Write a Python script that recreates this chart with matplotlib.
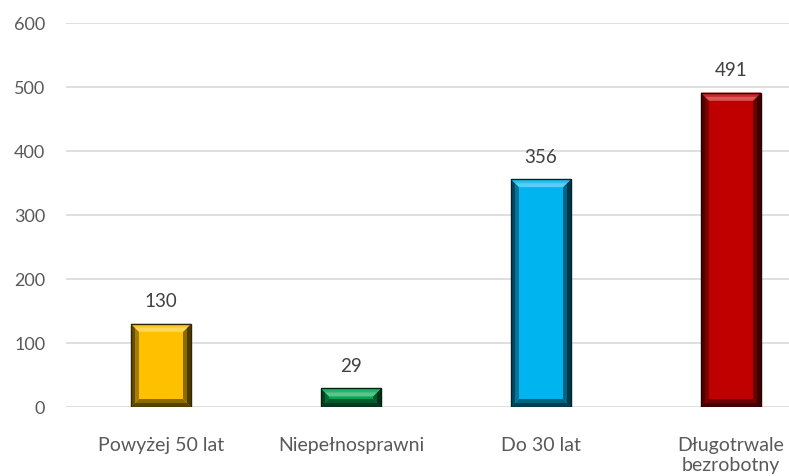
import matplotlib
matplotlib.use("Agg")
import matplotlib.pyplot as plt
from matplotlib.patches import Polygon
import matplotlib.colors as mcolors
import numpy as np

categories = ["Powyżej 50 lat", "Niepełnosprawni", "Do 30 lat", "Długotrwale\nbezrobotny"]
values = [130, 29, 356, 491]
colors = ["#FFC000", "#00A550", "#00B4F0", "#C00000"]
yticks = [0, 100, 200, 300, 400, 500, 600]

plt.rcParams['font.family'] = ['Lato', 'DejaVu Sans']
W, H = 789, 477
fig = plt.figure(figsize=(W / 100, H / 100), dpi=100)
left_px, right_px, top_px, bot_px = 66, 789, 24, 408
ax = fig.add_axes([left_px / W, 1 - bot_px / H, (right_px - left_px) / W, (bot_px - top_px) / H])

x = np.arange(len(categories))
slot_px = 190.0
xmax = -0.5 + (right_px - left_px) / slot_px
ax.set_xlim(-0.5, xmax)
ax.set_ylim(0, 600)
bar_w = 60 / slot_px

bars = ax.bar(x, values, width=bar_w, color=colors, zorder=3, linewidth=0)

def shade(c, f):
    r = np.array(mcolors.to_rgb(c))
    if f >= 0:
        return tuple(r + (1 - r) * f)
    return tuple(r * (1 + f))

fig.canvas.draw()
inv = ax.transData.inverted()

def D(pts):
    return inv.transform(pts)

def bevel(px0, py0, px1, py1, bb, c, ft, fb, fl, fr, z):
    top = D([(px0, py1), (px1, py1), (px1 - bb, py1 - bb), (px0 + bb, py1 - bb)])
    bot = D([(px0, py0), (px1, py0), (px1 - bb, py0 + bb), (px0 + bb, py0 + bb)])
    lft = D([(px0, py0), (px0, py1), (px0 + bb, py1 - bb), (px0 + bb, py0 + bb)])
    rgt = D([(px1, py0), (px1, py1), (px1 - bb, py1 - bb), (px1 - bb, py0 + bb)])
    ax.add_patch(Polygon(lft, closed=True, color=shade(c, fl), zorder=z, lw=0))
    ax.add_patch(Polygon(rgt, closed=True, color=shade(c, fr), zorder=z, lw=0))
    ax.add_patch(Polygon(top, closed=True, color=shade(c, ft), zorder=z + 0.1, lw=0))
    ax.add_patch(Polygon(bot, closed=True, color=shade(c, fb), zorder=z + 0.1, lw=0))

for rect, c in zip(bars, colors):
    x0, y0 = rect.get_x(), rect.get_y()
    x1, y1 = x0 + rect.get_width(), y0 + rect.get_height()
    (px0, py0) = ax.transData.transform((x0, y0))
    (px1, py1) = ax.transData.transform((x1, y1))
    bb = min(8, (py1 - py0) / 2.2)
    bevel(px0, py0, px1, py1, bb, c, 0.35, -0.45, -0.35, -0.45, 4)
    h = bb / 2
    bevel(px0, py0, px1, py1, h, c, 0.15, -0.65, -0.6, -0.7, 4.5)
    ax.add_patch(Polygon(D([(px0, py0), (px1, py0), (px1, py1), (px0, py1)]), closed=True,
                         fill=False, edgecolor=shade(c, -0.8), lw=1.0, zorder=6))

for xi, v in zip(x, values):
    ax.annotate(str(v), (xi, v), xytext=(0, 16.5), textcoords="offset points",
                ha="center", va="center", fontsize=13.5, color="#404040")

ax.set_yticks(yticks)
ax.set_yticklabels([str(t) for t in yticks], fontsize=13, color="#595959")
ax.set_xticks(x)
ax.set_xticklabels(categories, fontsize=14, color="#595959", linespacing=1.2)
ax.tick_params(axis="both", length=0)
ax.tick_params(axis="y", pad=15)
ax.tick_params(axis="x", pad=21)
ax.grid(axis="y", color="#D9D9D9", lw=1.2, zorder=0)
ax.set_axisbelow(True)
for s in ax.spines.values():
    s.set_visible(False)

fig.savefig("out.png", dpi=100)
